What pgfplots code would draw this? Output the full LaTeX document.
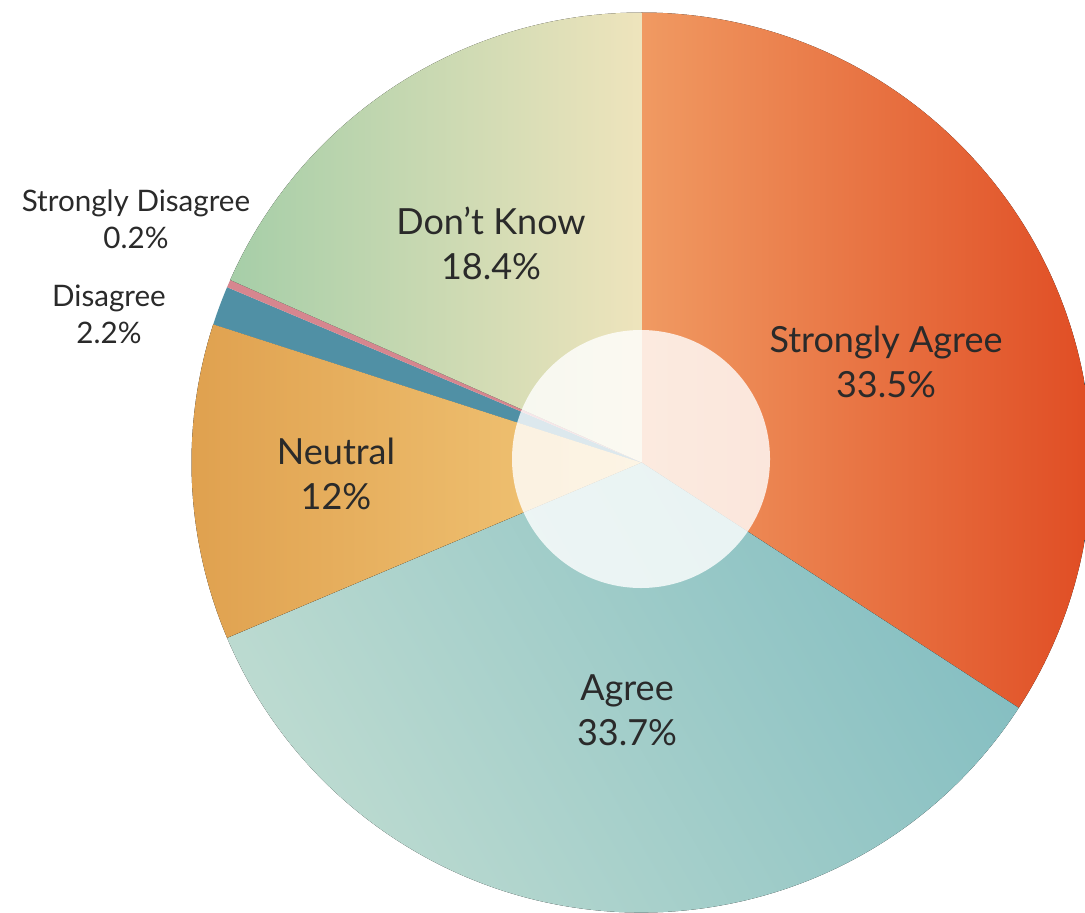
\documentclass[border=0pt]{standalone}
\usepackage{pgfplots}
\pgfplotsset{compat=1.18}
\usepackage{fontspec}
\setmainfont{Lato}

\definecolor{saL}{HTML}{F09A62}
\definecolor{saR}{HTML}{E04D24}
\definecolor{agL}{HTML}{BFDCD1}
\definecolor{agR}{HTML}{86BFC2}
\definecolor{neL}{HTML}{DFA04E}
\definecolor{neR}{HTML}{F3C97A}
\definecolor{diC}{HTML}{5090A5}
\definecolor{sdC}{HTML}{D6868F}
\definecolor{dkL}{HTML}{A6CEA8}
\definecolor{dkR}{HTML}{EEE4BC}
\definecolor{txt}{HTML}{2A2A2A}

% pie centre (px, y up) and radius
\def\cx{641.5}\def\cy{449.5}\def\R{225}
% #1 = cumulative share before this slice, #2 = share (as drawn), #3 = style
\newcommand\sector[3]{%
  \fill[#3] (axis cs:\cx,\cy)
    -- ++({90-3.6*#1}:\R pt)
    arc[start angle={90-3.6*#1}, delta angle={-3.6*#2}, radius=\R pt] -- cycle;}

\begin{document}
\begin{tikzpicture}
\begin{axis}[
  hide axis, scale only axis,
  x=0.5pt, y=0.5pt,
  xmin=0, xmax=1085, ymin=0, ymax=912,
]
\sector{0}{34.18}{left color=saL, right color=saR}
\sector{34.18}{34.45}{left color=agL, right color=agR, shading angle=120}
\sector{68.63}{11.34}{left color=neL, right color=neR}
\sector{79.97}{1.40}{diC}
\sector{81.37}{0.28}{sdC}
\sector{81.65}{18.35}{left color=dkL, right color=dkR}

\fill[white, opacity=0.8] (axis cs:641,453) circle[radius=64.5pt];

\tikzset{big/.style={align=center, text=txt, font=\fontsize{18}{22.5}\selectfont},
         small/.style={align=center, text=txt, font=\fontsize{14.8}{18.5}\selectfont}}
\node[big] at (axis cs:886,550) {Strongly Agree\\33.5\%};
\node[big] at (axis cs:627,202) {Agree\\33.7\%};
\node[big] at (axis cs:336,438) {Neutral\\12\%};
\node[big] at (axis cs:491,669) {Don’t Know\\18.4\%};
\node[small] at (axis cs:136,693) {Strongly Disagree\\0.2\%};
\node[small] at (axis cs:109,598) {Disagree\\2.2\%};
\end{axis}
\pgfresetboundingbox
\path (current axis.south west) rectangle (current axis.north east);
\end{tikzpicture}
\end{document}
